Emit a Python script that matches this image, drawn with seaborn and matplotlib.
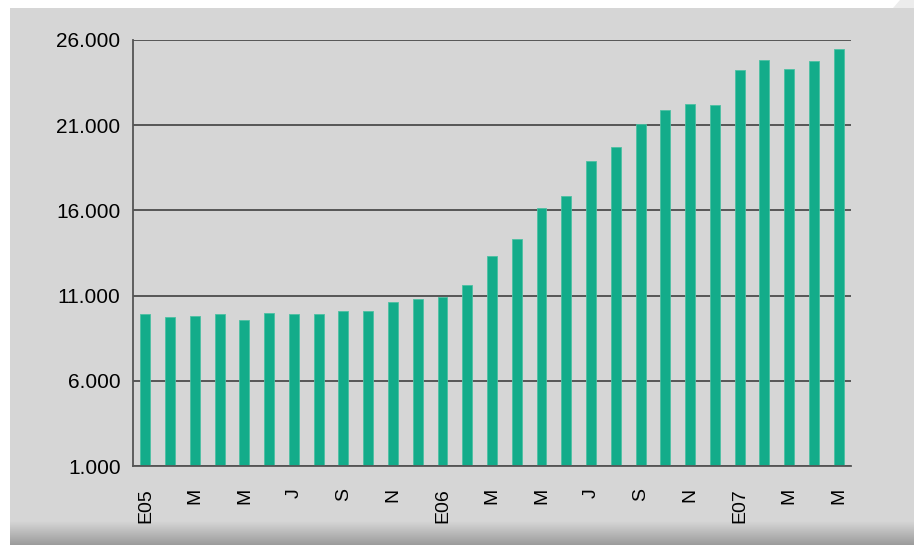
import numpy as np
import pandas as pd
import matplotlib.pyplot as plt
import seaborn as sns
from matplotlib.patches import Rectangle, Polygon

# Datos (Ene 2005 - May 2007)
meses = pd.date_range('2005-01-01', periods=29, freq='MS').strftime('%Y-%m').tolist()
valores = [9940, 9740, 9790, 9940, 9550, 9980, 9920, 9920, 10100, 10100,
           10640, 10780, 10940, 11640, 13300, 14320, 16160, 16870, 18900, 19720,
           21070, 21910, 22240, 22210, 24220, 24810, 24280, 24750, 25450]
etiquetas = ['E05', '', 'M', '', 'M', '', 'J', '', 'S', '', 'N', '',
             'E06', '', 'M', '', 'M', '', 'J', '', 'S', '', 'N', '',
             'E07', '', 'M', '', 'M']
yticks = [1000, 6000, 11000, 16000, 21000, 26000]

df = pd.DataFrame({'mes': meses, 'valor': valores})

sns.set_style('white')
plt.rcParams['font.family'] = ['Liberation Sans', 'DejaVu Sans']

fig = plt.figure(figsize=(9.14, 5.45), dpi=100)
fig.patch.set_facecolor('white')

# fondo gris con sombra inferior
W, H = 914, 545
fig.patches.append(Rectangle((10 / W, 0), 1, 1 - 8 / H, transform=fig.transFigure,
                             facecolor='#d6d6d6', edgecolor='none', zorder=-10))
grad = np.linspace(0, 1, 50).reshape(-1, 1)
bg = fig.add_axes([10 / W, 0, 1 - 10 / W, 24 / H], zorder=-5)
bg.imshow(grad, aspect='auto', cmap=sns.blend_palette(['#d6d6d6', '#9c9c9c'], as_cmap=True),
          extent=[0, 1, 1, 0])
bg.axis('off')
fig.patches.append(Polygon([(893 / W, 1 - 8 / H), (1, 1 - 8 / H), (1, 1), (900 / W, 1)],
                           closed=True, transform=fig.transFigure,
                           facecolor='#ececec', edgecolor='none', zorder=-9))

ax = fig.add_axes([133 / W, 1 - 466 / H, (851 - 133) / W, (466 - 40) / H])
ax.set_facecolor('none')
ax.set_axisbelow(True)

sns.barplot(data=df, x='mes', y='valor', color='#13ac8a', width=0.4,
            saturation=1, linewidth=0.6, edgecolor='#4cc0a3', ax=ax)

ax.set_ylim(1000, 26000)
ax.set_xlim(-0.5, len(meses) - 0.5)
ax.set_yticks(yticks)
ax.set_yticklabels([f'{v:,}'.replace(',', '.') for v in yticks], fontsize=15)
ax.yaxis.grid(True, color='#333333', lw=1.1)

ax.set_xticks(range(len(meses)))
ax.set_xticklabels(etiquetas, rotation=90, fontsize=14, va='top', ha='center')
ax.set_xticks(np.arange(-0.5, len(meses)), minor=True)
ax.tick_params(axis='x', which='major', length=0, pad=16, labelcolor='black')
ax.tick_params(axis='x', which='minor', length=6, width=1.2, color='#555555', direction='out')
ax.tick_params(axis='y', length=6, width=1.2, color='#555555', direction='out', pad=3,
               labelcolor='black')

ax.set_xlabel('')
ax.set_ylabel('')
for s in ['top', 'right']:
    ax.spines[s].set_visible(False)
for s in ['left', 'bottom']:
    ax.spines[s].set_color('#555555')
    ax.spines[s].set_linewidth(1.3)

plt.savefig('out.png', dpi=100)
